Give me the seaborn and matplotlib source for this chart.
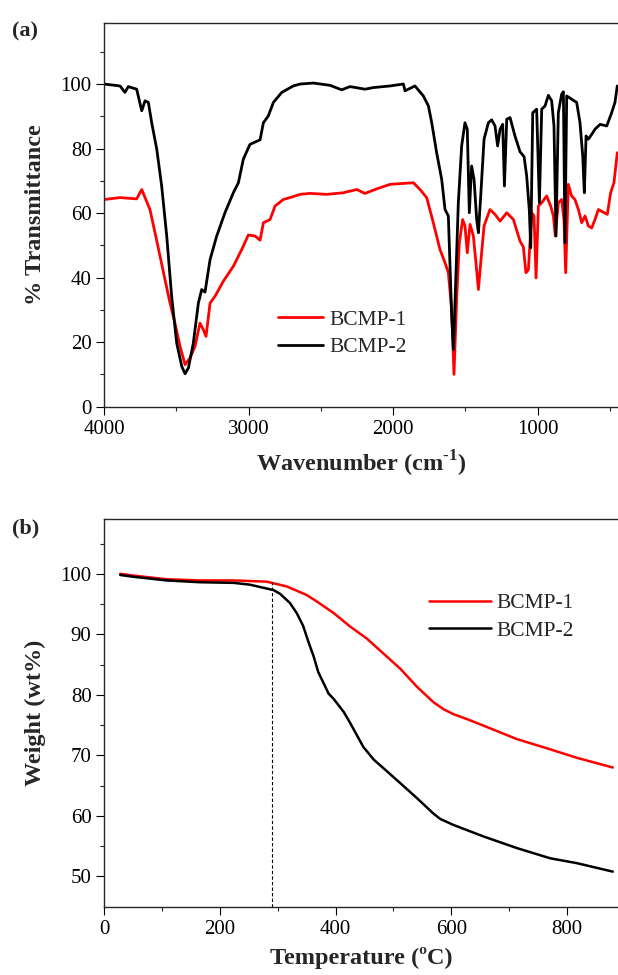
import numpy as np
import pandas as pd
import seaborn as sns
import matplotlib.pyplot as plt

# === FTIR data ===
wn_bcmp1 = [4000, 3889, 3774, 3739, 3716, 3682, 3647, 3612, 3578, 3543, 3509, 3474, 3439, 3405,
            3370, 3336, 3313, 3294, 3266, 3232, 3174, 3105, 3047, 3001, 2955, 2920, 2897, 2851,
            2816, 2759, 2713, 2643, 2574, 2459, 2344, 2251, 2194, 2113, 2021, 1928, 1859, 1813,
            1767, 1721, 1675, 1640, 1617, 1594, 1578, 1559, 1541, 1518, 1502, 1486, 1467, 1444,
            1426, 1409, 1393, 1370, 1329, 1294, 1259, 1213, 1167, 1121, 1098, 1080, 1063, 1040,
            1024, 1010, 994, 971, 937, 909, 890, 877, 856, 833, 817, 805, 787, 764, 741, 717,
            694, 671, 648, 625, 602, 579, 517, 494, 471, 448]
tr_bcmp1 = [64.2, 64.8, 64.4, 67.3, 64.8, 61.1, 53.9, 46.6, 39.4, 32.1, 25.9, 18.7, 13.0, 15.1,
            18.7, 25.9, 23.9, 21.8, 32.1, 34.2, 38.9, 43.5, 48.7, 53.2, 52.9, 51.6, 57.0, 58.0,
            62.2, 64.2, 64.8, 65.8, 66.1, 65.8, 66.3, 67.3, 66.1, 67.5, 68.9, 69.2, 69.4, 67.3,
            64.8, 57.0, 48.7, 44.6, 41.5, 30.1, 10.0, 34.2, 50.8, 58.0, 56.0, 47.7, 56.5, 52.9,
            44.6, 36.3, 44.6, 56.0, 61.1, 59.6, 57.5, 60.1, 58.0, 51.3, 49.5, 41.5, 42.5, 60.1,
            59.1, 39.9, 62.2, 63.2, 65.3, 62.2, 59.1, 52.9, 63.2, 64.2, 58.0, 41.5, 68.9, 65.3,
            64.2, 61.1, 57.0, 59.1, 56.0, 55.4, 58.0, 61.1, 59.6, 66.3, 69.4, 78.7]

wn_bcmp2 = [4000, 3889, 3855, 3832, 3774, 3739, 3716, 3693, 3670, 3635, 3601, 3566, 3532, 3497,
            3462, 3439, 3416, 3382, 3347, 3324, 3301, 3266, 3220, 3163, 3105, 3070, 3036, 2990,
            2920, 2897, 2863, 2828, 2770, 2690, 2643, 2551, 2436, 2355, 2298, 2194, 2136, 2021,
            1928, 1917, 1848, 1790, 1755, 1732, 1698, 1663, 1640, 1617, 1594, 1582, 1571, 1548,
            1525, 1502, 1486, 1472, 1456, 1439, 1421, 1409, 1393, 1370, 1340, 1317, 1294, 1276,
            1259, 1241, 1229, 1213, 1190, 1156, 1121, 1093, 1075, 1057, 1047, 1033, 1006, 987,
            971, 948, 925, 902, 886, 872, 856, 833, 821, 810, 798, 764, 729, 706, 687, 676, 664,
            648, 625, 602, 567, 521, 487, 464, 448]
tr_bcmp2 = [100.0, 99.4, 97.4, 99.2, 98.4, 91.7, 94.8, 94.3, 88.0, 79.8, 68.4, 52.9, 34.2, 19.7,
            12.5, 10.2, 12.0, 19.7, 32.1, 36.3, 35.5, 45.6, 52.9, 60.1, 66.3, 69.4, 76.7, 81.3,
            82.7, 88.0, 90.1, 94.3, 97.4, 99.4, 100.0, 100.3, 99.6, 98.2, 99.2, 98.4, 98.9, 99.4,
            100.0, 97.9, 99.4, 96.3, 93.2, 88.0, 78.7, 70.4, 61.1, 59.1, 28.0, 17.7, 32.1, 63.2,
            80.8, 88.0, 86.0, 60.1, 74.6, 70.4, 58.0, 53.9, 65.3, 82.9, 88.0, 88.9, 87.0, 80.8,
            86.0, 87.5, 68.4, 89.1, 89.6, 83.9, 79.0, 77.5, 71.5, 61.1, 49.2, 91.1, 92.2, 63.2,
            92.2, 93.2, 96.5, 94.8, 87.0, 52.9, 91.1, 96.8, 97.6, 50.8, 96.3, 95.3, 94.3, 88.0,
            77.7, 66.3, 83.9, 82.9, 84.4, 86.0, 87.5, 87.0, 91.1, 94.3, 99.4]

# === TGA data ===
temp_bcmp1 = [28, 51, 108, 166, 224, 281, 316, 350, 368, 397, 425, 454, 483, 512, 541, 569, 587,
              604, 627, 656, 713, 771, 817, 879]
wt_bcmp1 = [100.0, 99.7, 99.1, 98.9, 98.9, 98.7, 97.9, 96.5, 95.4, 93.5, 91.3, 89.3, 86.8, 84.3,
            81.3, 78.8, 77.6, 76.8, 76.0, 74.9, 72.7, 71.0, 69.6, 68.0]
temp_bcmp2 = [28, 51, 108, 166, 224, 252, 293, 304, 321, 333, 344, 353, 362, 370, 379, 388, 397,
              414, 425, 448, 466, 485, 512, 540, 569, 581, 604, 656, 713, 771, 817, 879]
wt_bcmp2 = [99.8, 99.5, 98.9, 98.6, 98.5, 98.2, 97.3, 96.7, 95.2, 93.5, 91.4, 88.8, 86.4, 83.8,
            82.0, 80.2, 79.3, 77.2, 75.4, 71.4, 69.3, 67.7, 65.4, 63.0, 60.4, 59.5, 58.5, 56.6,
            54.7, 53.0, 52.2, 50.8]
onset_temp = 291

labels = ["BCMP-1", "BCMP-2"]
colors = ["#ff0000", "#000000"]

sns.set_style("ticks")
plt.rcParams['font.family'] = ['Liberation Serif', 'DejaVu Serif']
plt.rcParams['mathtext.fontset'] = 'custom'
plt.rcParams['mathtext.rm'] = 'Liberation Serif'
plt.rcParams['mathtext.bf'] = 'Liberation Serif:bold'
plt.rcParams['axes.linewidth'] = 1.0

fig = plt.figure(figsize=(6.18, 9.75), dpi=100)
ax1 = fig.add_axes([0.1683, 0.5829, 0.8317, 0.3938])
ax2 = fig.add_axes([0.1683, 0.0700, 0.8317, 0.3974])

ftir = pd.concat([
    pd.DataFrame({"wn": wn_bcmp1, "T": tr_bcmp1, "sample": labels[0]}),
    pd.DataFrame({"wn": wn_bcmp2, "T": tr_bcmp2, "sample": labels[1]}),
])
tga = pd.concat([
    pd.DataFrame({"temp": temp_bcmp1, "w": wt_bcmp1, "sample": labels[0]}),
    pd.DataFrame({"temp": temp_bcmp2, "w": wt_bcmp2, "sample": labels[1]}),
])

# === (a) FTIR ===
for name, c in zip(labels, colors):
    d = ftir[ftir["sample"] == name]
    sns.lineplot(data=d, x="wn", y="T", ax=ax1, color=c, lw=2.0, sort=False,
                 estimator=None, label=name)
ax1.set_xlim(4000, 443)
ax1.set_ylim(0, 119)
ax1.set_xticks([4000, 3000, 2000, 1000])
ax1.set_xticks([3500, 2500, 1500, 500], minor=True)
ax1.set_yticks([0, 20, 40, 60, 80, 100])
ax1.set_yticks([10, 30, 50, 70, 90, 110], minor=True)
ax1.set_xlabel("Wavenumber (cm$^{\\mathbf{\u2010}\\mathbf{1}}$)", fontsize=17.5,
               fontweight="bold", labelpad=7)
ax1.set_ylabel("% Transmittance", fontsize=17.5, fontweight="bold", labelpad=10)
ax1.legend(loc="center left", bbox_to_anchor=(278 / 618, 1 - 333.5 / 975),
           bbox_transform=fig.transFigure, frameon=False, fontsize=15.5,
           handlelength=2.1, handletextpad=0.3, labelspacing=0.35, borderpad=0, borderaxespad=0)

# === (b) TGA ===
for name, c in zip(labels, colors):
    d = tga[tga["sample"] == name]
    sns.lineplot(data=d, x="temp", y="w", ax=ax2, color=c, lw=1.8, sort=False,
                 estimator=None, label=name)
ax2.vlines(onset_temp, 45, 98.7, colors="black", linestyles=(0, (3, 2)), lw=0.8)
ax2.set_xlim(0, 888)
ax2.set_ylim(45, 109)
ax2.set_xticks([0, 200, 400, 600, 800])
ax2.set_xticks([100, 300, 500, 700], minor=True)
ax2.set_yticks([50, 60, 70, 80, 90, 100])
ax2.set_yticks([55, 65, 75, 85, 95, 105], minor=True)
ax2.set_xlabel("Temperature (ºC)", fontsize=17.5, fontweight="bold", labelpad=6)
ax2.set_ylabel("Weight (wt%)", fontsize=17.5, fontweight="bold", labelpad=10)
ax2.legend(loc="center left", bbox_to_anchor=(429 / 618, 1 - 617 / 975),
           bbox_transform=fig.transFigure, frameon=False, fontsize=15.5,
           handlelength=2.9, handletextpad=0.25, labelspacing=0.35, borderpad=0, borderaxespad=0)

for ax in (ax1, ax2):
    ax.spines["right"].set_visible(False)
    ax.tick_params(which="major", direction="out", length=5.5, width=0.8, labelsize=15, colors="black")
    ax.tick_params(which="minor", direction="out", length=3, width=0.8)
    ax.tick_params(axis="x", pad=4)

fig.text(12 / 618, 1 - 31 / 975, "(a)", fontsize=16, fontweight="bold", va="center", ha="left")
fig.text(12 / 618, 1 - 528 / 975, "(b)", fontsize=16, fontweight="bold", va="center", ha="left")

fig.savefig("out.png", dpi=100)
